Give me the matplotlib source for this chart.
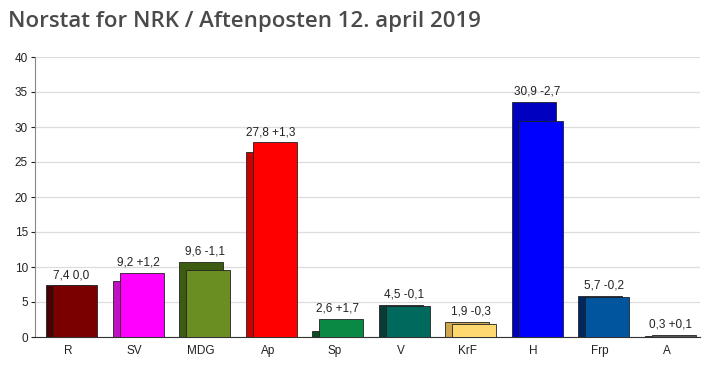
import matplotlib
matplotlib.use("Agg")
import matplotlib.pyplot as plt

parties = ["R", "SV", "MDG", "Ap", "Sp", "V", "KrF", "H", "Frp", "A"]
current = [7.4, 9.2, 9.6, 27.8, 2.6, 4.5, 1.9, 30.9, 5.7, 0.3]
change = [0.0, 1.2, -1.1, 1.3, 1.7, -0.1, -0.3, -2.7, -0.2, 0.1]
front_colors = ["#7a0000", "#ff00ff", "#6b8e23", "#ff0000", "#088a45",
                "#00695e", "#ffd870", "#0000ff", "#00559e", "#555555"]
back_colors = ["#4a0000", "#c012c0", "#3c5c12", "#c80000", "#0b4d22",
               "#0a3b34", "#d0a650", "#0000c0", "#00285e", "#333333"]
yticks = [0, 5, 10, 15, 20, 25, 30, 35, 40]

plt.rcParams["font.family"] = ["Liberation Sans", "DejaVu Sans"]


def fmt(v, signed=False):
    s = f"{v:+.1f}" if signed and v != 0 else f"{v:.1f}"
    return s.replace(".", ",")


fig = plt.figure(figsize=(7.06, 3.88), dpi=100)
ax = fig.add_axes([35 / 706, 51 / 388, 665 / 706, 280 / 388])

x = list(range(len(parties)))
previous = [c - d for c, d in zip(current, change)]
w = 0.66
ax.bar(x, previous, width=w, color=back_colors, edgecolor="#222222",
       linewidth=0.6, zorder=2)
ax.bar([i + 0.105 for i in x], current, width=w, color=front_colors,
       edgecolor="#222222", linewidth=0.6, zorder=3)

for i, (c, p, d) in enumerate(zip(current, previous, change)):
    ax.text(i + 0.05, max(c, p) + 0.6, f"{fmt(c)} {fmt(d, True)}",
            ha="center", va="bottom", fontsize=8.5, color="#222222", zorder=4)

ax.set_xlim(-0.5, len(parties) - 0.5)
ax.set_ylim(0, 40)
ax.set_yticks(yticks)
ax.set_xticks(x)
ax.set_xticklabels(parties)
ax.tick_params(axis="x", length=0, pad=6, labelsize=8.5, colors="#222222")
ax.tick_params(axis="y", length=3, pad=2, labelsize=8.5, colors="#222222")
ax.yaxis.grid(True, color="#dddddd", linewidth=0.9, zorder=0)
ax.set_axisbelow(True)
for s in ("top", "right"):
    ax.spines[s].set_visible(False)
ax.spines["left"].set_color("#888888")
ax.spines["bottom"].set_color("#333333")

fig.text(8 / 706, 1 - 21 / 388, "Norstat for NRK / Aftenposten 12. april 2019",
         fontsize=16, fontweight="semibold", family="Open Sans",
         color="#4a4a4a", va="center", ha="left")

fig.savefig("out.png", dpi=100)
